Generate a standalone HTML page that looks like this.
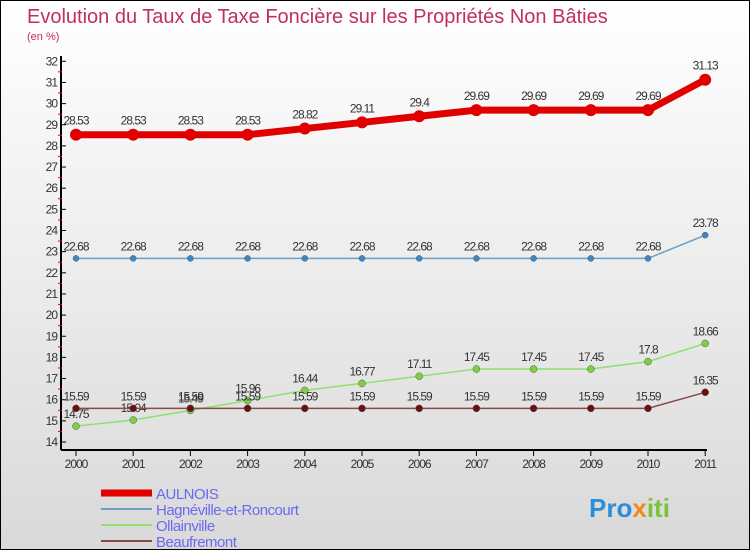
<!DOCTYPE html>
<html><head><meta charset="utf-8"><style>
body{margin:0}
#c{width:748px;height:548px;border:1px solid #000;background:linear-gradient(#fff,#d9d9d9);position:relative;font-family:"Liberation Sans",sans-serif;overflow:hidden}
svg text{font-family:"Liberation Sans",sans-serif}
</style></head><body>
<div id="c">
<svg id="s" width="748" height="548">
<text x="26" y="22" font-size="20" fill="#c0305a">Evolution du Taux de Taxe Foncière sur les Propriétés Non Bâties</text>
<text x="26" y="39" font-size="11" fill="#c0305a">(en %)</text>
<text x="588" y="516" font-size="26" font-weight="bold" fill="#2a8fd6">Pro<tspan fill="#f08a1c">x</tspan><tspan fill="#7cc23a">iti</tspan></text>
</svg>
</div>
<script>
const years=[2000,2001,2002,2003,2004,2005,2006,2007,2008,2009,2010,2011];
const aulnois=[28.53,28.53,28.53,28.53,28.82,29.11,29.4,29.69,29.69,29.69,29.69,31.13];
const hagneville=[22.68,22.68,22.68,22.68,22.68,22.68,22.68,22.68,22.68,22.68,22.68,23.78];
const ollainville=[14.75,15.04,15.49,15.96,16.44,16.77,17.11,17.45,17.45,17.45,17.8,18.66];
const beaufremont=[15.59,15.59,15.59,15.59,15.59,15.59,15.59,15.59,15.59,15.59,15.59,16.35];
const yTicks=[14,15,16,17,18,19,20,21,22,23,24,25,26,27,28,29,30,31,32];
const names=['AULNOIS','Hagnéville-et-Roncourt','Ollainville','Beaufremont'];
const NS='http://www.w3.org/2000/svg';
const s=document.getElementById('s');
const X=i=>75+i*57.2, Y=v=>441-(v-14)*21.15;
function mk(t,a,p){const e=document.createElementNS(NS,t);for(const k in a)e.setAttribute(k,a[k]);(p||s).appendChild(e);return e;}
let ax=mk('line',{x1:60,y1:55,x2:60,y2:449,stroke:'#000','stroke-width':2});


let bx=mk('line',{x1:60,y1:449,x2:706,y2:449,stroke:'#000','stroke-width':2});


yTicks.forEach(v=>{
 mk('line',{x1:60,y1:Y(v),x2:65,y2:Y(v),stroke:'#000'});
 if(v<32)mk('line',{x1:57,y1:Y(v+0.5),x2:61,y2:Y(v+0.5),stroke:'#e00'});
 const t=mk('text',{x:56,y:Y(v)+4,'font-size':12,fill:'#333','text-anchor':'end','letter-spacing':'-1'});t.textContent=v;
 
 
});
years.forEach((y,i)=>{
 mk('line',{x1:X(i),y1:449,x2:X(i),y2:455,stroke:'#000'});
 const t=mk('text',{x:X(i),y:467,'font-size':12,fill:'#333','text-anchor':'middle','letter-spacing':'-1'});t.textContent=y;
 
 
});
const series=[[aulnois,'#e00000',7,6,'#e00000'],[hagneville,'#6aa0c8',1.5,3,'#3a88c8'],[ollainville,'#90e070',1.5,3.5,'#7ed040'],[beaufremont,'#8a4a4a',1.5,3.5,'#6a1010']];
series.forEach((sr,k)=>{
 const [d,c,w,r,fc]=sr;
 const g=mk('g',{});
 
 
 const p=mk('polyline',{points:d.map((v,i)=>X(i)+','+Y(v)).join(' '),fill:'none',stroke:c,'stroke-width':w},g);
 
 
 d.forEach((v,i)=>{
  const pt=mk('circle',{cx:X(i),cy:Y(v),r:r,fill:fc,stroke:k?'#555':'none','stroke-width':0.5},g);
  
  
  const t=mk('text',{x:X(i),y:Y(v)-(k==0?10:8),'font-size':12,fill:'#333','text-anchor':'middle','letter-spacing':'-1'},g);
  t.textContent=String(v);
  
  
 });
});
[['#e00000',7],['#6aa0c8',2],['#90e070',2],['#8a4a4a',2]].forEach((l,k)=>{
 const y=492+k*16;
 const ln=mk('line',{x1:100,y1:y,x2:151,y2:y,stroke:l[0],'stroke-width':l[1]});
 
 
 const t=mk('text',{x:155,y:y+6,'font-size':15,fill:'#6a6af0','letter-spacing':'-0.5'});t.textContent=names[k];
 
 
});
</script>
</body></html>
